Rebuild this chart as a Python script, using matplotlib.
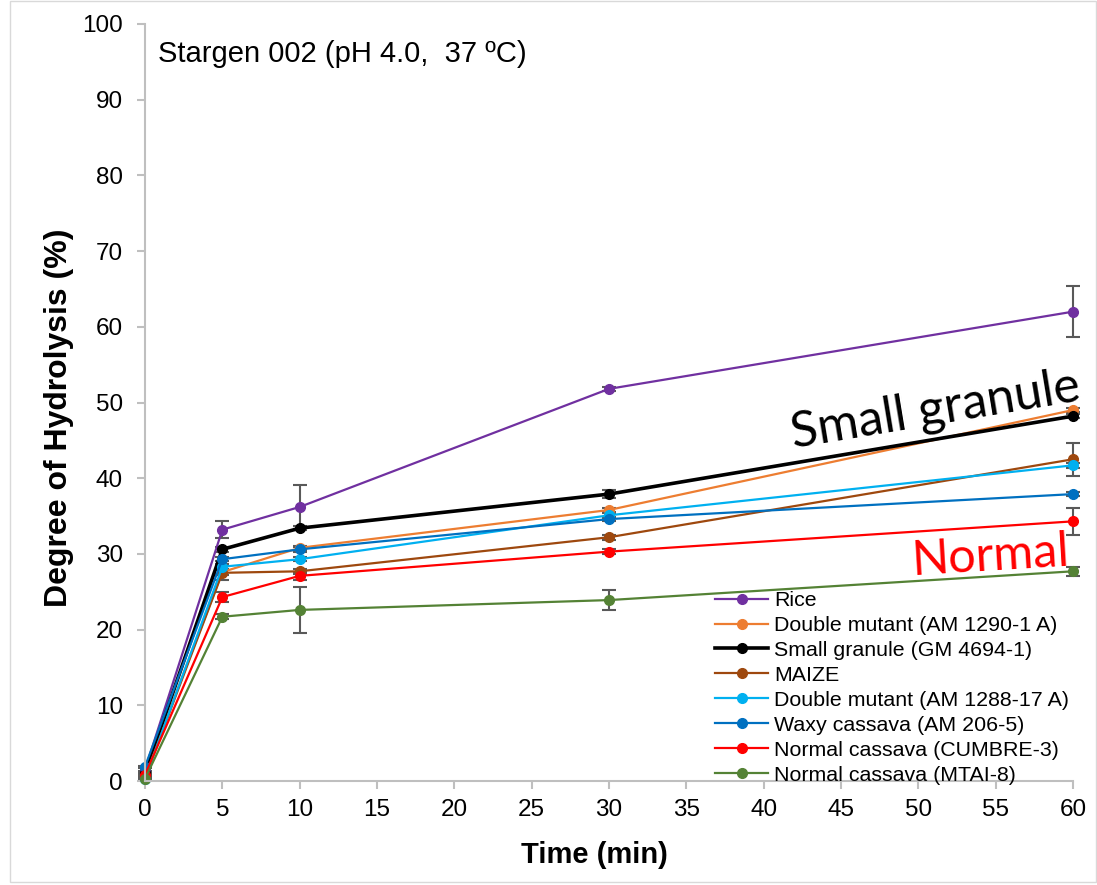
import matplotlib.pyplot as plt
import numpy as np

plt.rcParams['font.family'] = ['Liberation Sans', 'DejaVu Sans']

# tiempos y datos
time = [0, 5, 10, 30, 60]

labels = ['Rice', 'Double mutant (AM 1290-1 A)', 'Small granule (GM 4694-1)', 'MAIZE',
          'Double mutant (AM 1288-17 A)', 'Waxy cassava (AM 206-5)',
          'Normal cassava (CUMBRE-3)', 'Normal cassava (MTAI-8)']

rice = [1.5, 33.2, 36.2, 51.8, 62.0]
dm_1290 = [0.8, 27.6, 30.8, 35.8, 49.0]
small_granule = [1.0, 30.6, 33.4, 37.9, 48.2]
maize = [0.5, 27.5, 27.7, 32.2, 42.5]
dm_1288 = [0.3, 28.3, 29.3, 35.1, 41.7]
waxy = [1.9, 29.3, 30.6, 34.6, 37.9]
cumbre = [0.8, 24.3, 27.1, 30.3, 34.3]
mtai = [0.3, 21.7, 22.6, 23.9, 27.7]

rice_err = [0.2, 1.1, 2.9, 0.3, 3.4]
dm_1290_err = [0.1, 0.4, 0.3, 0.3, 0.3]
small_granule_err = [0.1, 0.3, 0.3, 0.5, 0.3]
maize_err = [0.1, 1.0, 0.3, 0.3, 2.2]
dm_1288_err = [0.1, 0.3, 0.3, 0.3, 0.3]
waxy_err = [0.1, 0.3, 0.3, 0.3, 0.3]
cumbre_err = [0.1, 0.7, 0.5, 0.3, 1.8]
mtai_err = [0.1, 0.3, 3.0, 1.3, 0.6]

series = [rice, dm_1290, small_granule, maize, dm_1288, waxy, cumbre, mtai]
errors = [rice_err, dm_1290_err, small_granule_err, maize_err, dm_1288_err, waxy_err, cumbre_err, mtai_err]
colors = ['#7030A0', '#ED7D31', '#000000', '#9E480E', '#00B0F0', '#0070C0', '#FF0000', '#548235']
widths = [1.6, 1.6, 2.6, 1.6, 1.6, 1.6, 1.6, 1.6]

W, H = 1097, 885
fig = plt.figure(figsize=(W / 100, H / 100), dpi=100)
ax = fig.add_axes([145 / W, 1 - 781 / H, 928 / W, 757 / H])

for y, e, c, lw, lab in zip(series, errors, colors, widths, labels):
    ax.errorbar(time, y, yerr=e, fmt='none', ecolor='#595959', elinewidth=1.5, capsize=5, capthick=1.5,
                zorder=1, clip_on=False)
    ax.plot(time, y, '-o', color=c, lw=lw, ms=7, label=lab, zorder=2, clip_on=False)

ax.set_xlim(0, 60)
ax.set_ylim(0, 100)
ax.set_xticks(np.arange(0, 61, 5))
ax.set_yticks(np.arange(0, 101, 10))
ax.tick_params(labelsize=17.5, length=6, color='#bfbfbf', width=1.5)
ax.tick_params(axis='y', pad=10)
ax.tick_params(axis='x', pad=7)
for s in ['top', 'right']:
    ax.spines[s].set_visible(False)
for s in ['left', 'bottom']:
    ax.spines[s].set_color('#bfbfbf')
    ax.spines[s].set_linewidth(1.5)

# titulos de ejes
fig.text(594 / W, 1 - 855 / H, 'Time (min)', fontsize=21, fontweight='bold', ha='center', va='center')
fig.text(59 / W, 1 - 418 / H, 'Degree of Hydrolysis (%)', fontsize=23, fontweight='bold',
         rotation=90, ha='center', va='center')

fig.text(158 / W, 1 - 40 / H, 'Stargen 002 (pH 4.0,  37 ºC)', fontsize=21, va='top')

ax.text(41.9, 44.1, 'Small granule', fontsize=36, rotation=9.4, rotation_mode='anchor',
        family=['Lato', 'DejaVu Sans'], ha='left', va='baseline')
ax.text(49.6, 27.2, 'Normal', fontsize=35, rotation=3.5, rotation_mode='anchor', color='#FF0000',
        family=['Lato', 'DejaVu Sans'], ha='left', va='baseline')

ax.legend(loc='upper left', bbox_to_anchor=(715 / W, 1 - 591 / H), bbox_transform=fig.transFigure,
          frameon=False, fontsize=15.4, handlelength=2.5, handletextpad=0.25, labelspacing=0.28,
          borderpad=0, borderaxespad=0)

fig.patches.append(plt.Rectangle((0.009, 0.003), 0.99, 0.996, transform=fig.transFigure,
                                 fill=False, edgecolor='#d9d9d9', lw=1))
plt.savefig('out.png', dpi=100)
